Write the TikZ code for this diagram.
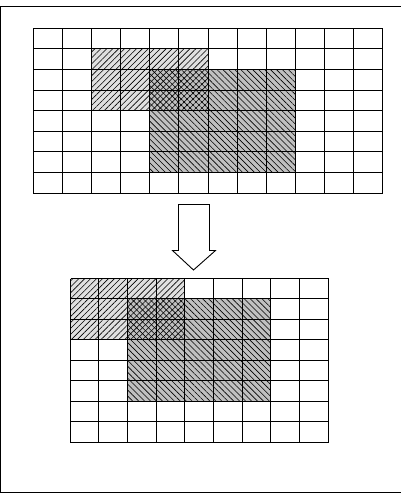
\documentclass[tikz,border=0pt]{standalone}
\usetikzlibrary{patterns.meta}
\definecolor{lightfill}{HTML}{E0E0E0}
\definecolor{darkfill}{HTML}{C0C0C0}
\tikzset{
  gridline/.style={line width=1.3bp},
  lighthatch/.style={fill=lightfill, postaction={pattern={Lines[angle=45,distance=4.2bp,line width=0.6bp]}}},
  darkhatch/.style={fill=darkfill, postaction={pattern={Lines[angle=-45,distance=4.2bp,line width=0.6bp]}}},
  crosshatch/.style={fill=darkfill, postaction={pattern={Lines[angle=45,distance=4.2bp,line width=0.6bp]}}, postaction={pattern={Lines[angle=-45,distance=4.2bp,line width=0.6bp]}}},
  frameline/.style={line width=1.3bp},
  blockarrow/.style={draw, line width=0.9bp, fill=white, line join=miter}
}
\begin{document}
\begin{tikzpicture}[x=1bp,y=-1bp]
\useasboundingbox (0,0) rectangle (400,500);
\fill[white] (0,0) rectangle (400,500);
% frame (right side lies outside the picture)
\draw[frameline] (402,6.5) -- (0.5,6.5) -- (0.5,492.5) -- (402,492.5);

% ---------- top grid: 12 x 8 ----------
\fill[lighthatch] (91.5,48.5) rectangle (208.5,110.5);
\fill[darkhatch] (149.5,69.5) rectangle (295.5,172.5);
\fill[crosshatch] (149.5,69.5) rectangle (208.5,110.5);
\foreach \x in {33.5,62.5,91.5,120.5,149.5,178.5,208.5,237.5,266.5,295.5,324.5,353.5,382.5}
  \draw[gridline] (\x,28.5) -- (\x,193.5);
\foreach \y in {28.5,48.5,69.5,90.5,110.5,131.5,151.5,172.5,193.5}
  \draw[gridline] (33.5,\y) -- (382.5,\y);

% ---------- arrow ----------
\draw[blockarrow] (178.5,204.5) -- (209.5,204.5) -- (209.5,250.5) -- (215.5,250.5)
  -- (193.5,270) -- (172.5,250.5) -- (178.5,250.5) -- cycle;

% ---------- bottom grid: 9 x 8 ----------
\fill[lighthatch] (70.5,278.5) rectangle (184.5,339.5);
\fill[darkhatch] (127.5,298.5) rectangle (270.5,401.5);
\fill[crosshatch] (127.5,298.5) rectangle (184.5,339.5);
\foreach \x in {70.5,98.5,127.5,156.5,184.5,213.5,242.5,270.5,299.5,328.5}
  \draw[gridline] (\x,278.5) -- (\x,442.5);
\foreach \y in {278.5,298.5,319.5,339.5,360.5,380.5,401.5,421.5,442.5}
  \draw[gridline] (70.5,\y) -- (328.5,\y);
\end{tikzpicture}
\end{document}
